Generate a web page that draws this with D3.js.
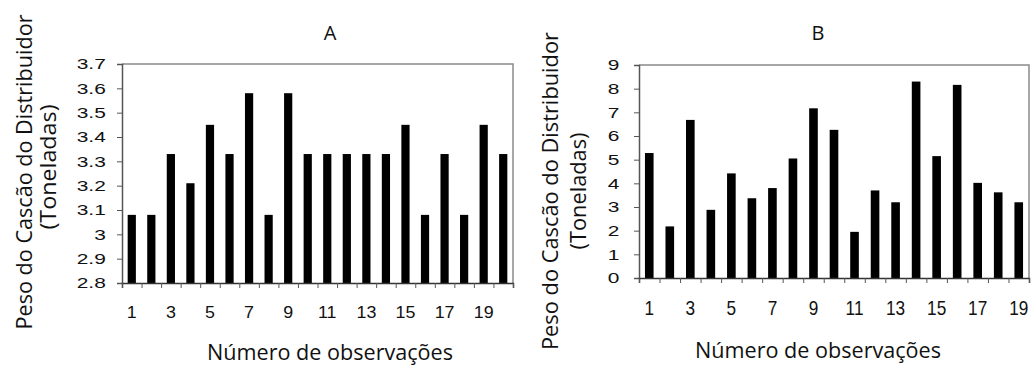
<!DOCTYPE html>
<html>
<head>
<meta charset="utf-8">
<script src="https://cdn.jsdelivr.net/npm/d3@7"></script>
<style>
  body { margin: 0; background: #fff; }
  svg { display: block; }
</style>
</head>
<body>
<svg width="1033" height="365"></svg>
<script>
// chart A - observations 1..20
const obsA = d3.range(1, 21);
const pesoA = [3.08, 3.08, 3.33, 3.21, 3.45, 3.33, 3.58, 3.08, 3.58, 3.33,
               3.33, 3.33, 3.33, 3.33, 3.45, 3.08, 3.33, 3.08, 3.45, 3.33];
const yTicksA = [2.8, 2.9, 3.0, 3.1, 3.2, 3.3, 3.4, 3.5, 3.6, 3.7];

// chart B - observations 1..19
const obsB = d3.range(1, 20);
const pesoB = [5.28, 2.18, 6.68, 2.88, 4.42, 3.37, 3.8, 5.05, 7.17, 6.26,
               1.95, 3.7, 3.2, 8.3, 5.15, 8.16, 4.02, 3.62, 3.2];
const yTicksB = [0, 1, 2, 3, 4, 5, 6, 7, 8, 9];

const xLabelTicks = [1, 3, 5, 7, 9, 11, 13, 15, 17, 19];

const numFont = "Liberation Sans";
const lblFont = "Open Sans";

const svg = d3.select("svg");

function panel(cfg) {
  let x = d3.scaleBand().domain(cfg.obs).range([cfg.left, cfg.right])
      .paddingInner(cfg.pad).paddingOuter(cfg.pad / 2);
  let edges = d3.scaleLinear().domain([0, cfg.obs.length]).range([cfg.left, cfg.right]);
  let y = d3.scaleLinear().domain(cfg.domain).range([cfg.bottom, cfg.top]);

  let g = svg.append("g");

  // frame top + right
  g.append("path")
    .attr("d", "M" + cfg.left + "," + cfg.top + "H" + cfg.right + "V" + cfg.bottom)
    .attr("fill", "none")
    .attr("stroke", "#8a8a8a")
    .attr("stroke-width", 1.5);

  g.selectAll(".bar")
    .data(cfg.values)
    .enter()
    .append("rect")
    .attr("class", "bar")
    .attr("x", (d, i) => x(cfg.obs[i]))
    .attr("width", x.bandwidth())
    .attr("y", d => y(d))
    .attr("height", d => cfg.bottom - y(d))
    .attr("fill", "#000");

  // y axis
  let ya = g.append("g")
    .attr("transform", "translate(" + cfg.left + ",0)")
    .call(d3.axisLeft(y).tickValues(cfg.yTicks).tickSize(5).tickPadding(cfg.yPad)
      .tickFormat(d => String(+d.toFixed(1))));
  ya.attr("font-family", numFont).attr("font-size", cfg.yFont);
  ya.select(".domain").attr("stroke", "#555").attr("stroke-width", 1.5);
  ya.selectAll(".tick line").attr("stroke", "#555");
  ya.selectAll(".tick text")
    .attr("fill", "#111")
    .attr("transform", "scale(" + cfg.yStretch + ",1)");

  // x tick marks on band edges
  let xe = g.append("g")
    .attr("transform", "translate(0," + cfg.bottom + ")")
    .call(d3.axisBottom(edges).tickValues(d3.range(0, cfg.obs.length + 1))
      .tickSize(5).tickFormat(""));
  xe.select(".domain").attr("stroke", "#333").attr("stroke-width", 1.5);
  xe.selectAll(".tick line").attr("stroke", "#555");

  // x labels on odd observations
  let xl = g.append("g")
    .attr("transform", "translate(0," + cfg.bottom + ")")
    .call(d3.axisBottom(x).tickValues(xLabelTicks).tickSize(0).tickPadding(cfg.xPad));
  xl.attr("font-family", numFont).attr("font-size", cfg.xFont);
  xl.select(".domain").remove();
  xl.selectAll(".tick text")
    .attr("fill", "#111")
    .attr("transform", "scale(" + cfg.xStretch + ",1)");

  // titles
  svg.append("text")
    .attr("x", cfg.titleX).attr("y", 40)
    .attr("text-anchor", "middle")
    .attr("font-family", lblFont)
    .attr("font-size", 20)
    .attr("fill", "#111")
    .text(cfg.title);

  svg.append("text")
    .attr("x", cfg.titleX).attr("y", cfg.xTitleY)
    .attr("text-anchor", "middle")
    .attr("font-family", lblFont)
    .attr("font-size", 21)
    .attr("fill", "#111")
    .attr("textLength", 246)
    .attr("lengthAdjust", "spacingAndGlyphs")
    .text("Número de observações");

  let yt = svg.append("text")
    .attr("transform", "translate(" + cfg.yTitleX + "," + cfg.yTitleY + ") rotate(-90)")
    .attr("text-anchor", "middle")
    .attr("font-family", lblFont)
    .attr("font-size", 22)
    .attr("fill", "#111");
  yt.append("tspan").attr("x", 0).attr("y", 0)
    .attr("textLength", cfg.yLen1).attr("lengthAdjust", "spacingAndGlyphs")
    .text("Peso do Cascão do Distribuidor");
  yt.append("tspan").attr("x", cfg.line2Shift).attr("y", cfg.lineGap)
    .attr("textLength", cfg.yLen2).attr("lengthAdjust", "spacingAndGlyphs")
    .text("(Toneladas)");
}

panel({
  obs: obsA, values: pesoA, domain: [2.8, 3.7], yTicks: yTicksA,
  left: 122, right: 513, top: 64, bottom: 283, pad: 0.58,
  yFont: 15.5, yStretch: 1.35, yPad: 7, xFont: 17, xStretch: 1.05, xPad: 23,
  title: "A", titleX: 330, xTitleY: 359.5,
  yTitleX: 32, yTitleY: 172, yLen1: 315, yLen2: 125, lineGap: 24, line2Shift: 5
});

panel({
  obs: obsB, values: pesoB, domain: [0, 9], yTicks: yTicksB,
  left: 639, right: 1029, top: 65, bottom: 278, pad: 0.58,
  yFont: 15.5, yStretch: 1.35, yPad: 9.5, xFont: 21, xStretch: 0.82, xPad: 22,
  title: "B", titleX: 818, xTitleY: 358,
  yTitleX: 558, yTitleY: 191, yLen1: 318, yLen2: 117, lineGap: 28, line2Shift: 0
});
</script>
</body>
</html>
